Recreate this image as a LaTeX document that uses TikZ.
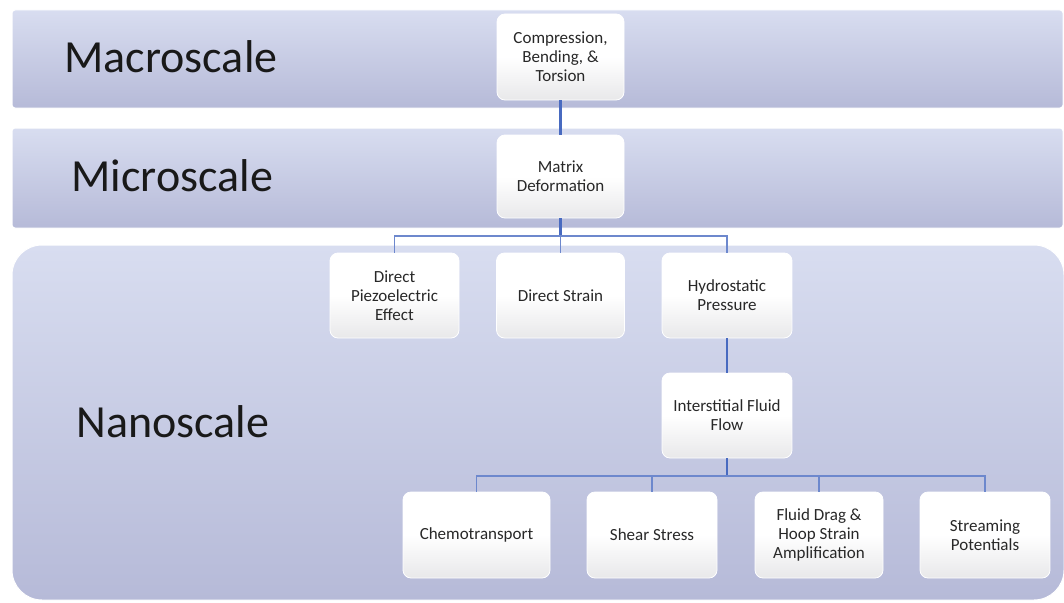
\documentclass[tikz,border=0pt]{standalone}
\usepackage{fontspec}
\setmainfont{Carlito}
\usetikzlibrary{shadings}
\definecolor{bandtop}{RGB}{216,221,240}
\definecolor{bandbot}{RGB}{182,186,216}
\definecolor{linkblue}{RGB}{72,106,192}
\definecolor{boxtext}{RGB}{40,40,40}
\definecolor{boxbot}{RGB}{232,232,234}
\tikzset{
  band/.style={top color=bandtop, bottom color=bandbot, draw=white, line width=1pt},
  bandlabel/.style={anchor=west, font=\fontsize{46}{52}\selectfont, text=black!90},
  procbox/.style={draw=white, line width=0.8pt, rounded corners=8pt,
    top color=white, bottom color=boxbot, middle color=white,
    text=boxtext, align=center, inner sep=2pt,
    font=\fontsize{17}{19}\selectfont, minimum height=85pt},
  trunk/.style={draw=linkblue, line width=2.2pt},
  branch/.style={draw=linkblue!80, line width=1.8pt},
}
\begin{document}
\begin{tikzpicture}[x=1pt,y=-1pt]
\useasboundingbox (0,0) rectangle (1064,602);
% bands
\path[band, rounded corners=3pt] (12,10) rectangle (1063,108);
\path[band, rounded corners=3pt] (12,128) rectangle (1063,228);
\path[band, rounded corners=30pt] (12,245) rectangle (1064,600);
% band labels
\node[bandlabel] (lmacro) at (61,57) {Macroscale};
\node[bandlabel] (lmicro) at (68,176) {Microscale};
\node[bandlabel] (lnano) at (73,422) {Nanoscale};
% boxes
\node[procbox, minimum width=127pt, minimum height=86pt] (comp) at (560.5,57) {Compression,\\Bending, \&\\Torsion};
\node[procbox, minimum width=127pt, minimum height=83pt] (matrix) at (560.5,176.5) {Matrix\\Deformation};
\node[procbox, minimum width=129pt] (piezo) at (394.5,295.5) {Direct\\Piezoelectric\\Effect};
\node[procbox, minimum width=128pt] (strain) at (560.5,295.5) {Direct Strain};
\node[procbox, minimum width=130pt] (hydro) at (727,295.5) {Hydrostatic\\Pressure};
\node[procbox, minimum width=130pt] (inter) at (727,415.5) {Interstitial Fluid\\Flow};
\node[procbox, minimum width=147pt, minimum height=86pt] (chemo) at (476.5,535) {Chemotransport};
\node[procbox, minimum width=130pt, minimum height=86pt] (shear) at (652,535) {Shear Stress};
\node[procbox, minimum width=128pt, minimum height=86pt] (fluid) at (819,535) {Fluid Drag \&\\Hoop Strain\\Amplification};
\node[procbox, minimum width=130pt, minimum height=86pt] (stream) at (985,535) {Streaming\\Potentials};
% connectors
\coordinate (bus1) at (560.5,236);
\coordinate (bus2) at (727,476);
\draw[trunk] (comp.south) -- (matrix.north);
\draw[trunk] (matrix.south) -- (bus1);
\draw[branch] (piezo.north) |- (bus1) -| (hydro.north);
\draw[branch] (bus1) -- (bus1 |- strain.north);
\draw[trunk] (hydro.south) -- (inter.north);
\draw[trunk] (inter.south) -- (bus2);
\draw[branch] (chemo.north) |- (bus2) -| (stream.north);
\draw[branch] (shear.north) -- (shear.north |- bus2);
\draw[branch] (fluid.north) -- (fluid.north |- bus2);
\end{tikzpicture}
\end{document}
